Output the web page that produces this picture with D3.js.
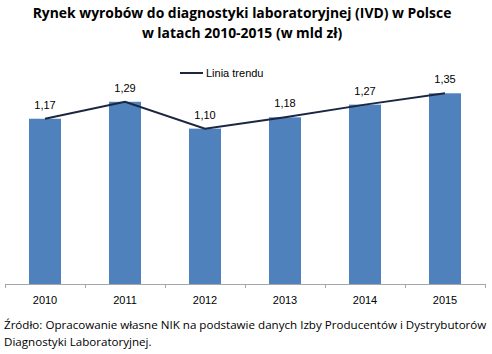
<!DOCTYPE html>
<html>
<head>
<meta charset="utf-8">
<script src="https://cdn.jsdelivr.net/npm/d3@7"></script>
<style>
  body { margin: 0; background: #fff; }
  svg { display: block; }
</style>
</head>
<body>
<div id="chart"></div>
<script>
// data
var years = ["2010", "2011", "2012", "2013", "2014", "2015"];
var values = [1.17, 1.29, 1.10, 1.18, 1.27, 1.35];
var titleLines = ["Rynek wyrobów do diagnostyki laboratoryjnej (IVD) w Polsce", "w latach 2010-2015 (w mld zł)"];
var sourceLines = ["Źródło: Opracowanie własne NIK na podstawie danych Izby Producentów i Dystrybutorów", "Diagnostyki Laboratoryjnej."];
var legendLabel = "Linia trendu";

var width = 492, height = 354;

var svg = d3.select("#chart").append("svg")
	.attr("width", width)
	.attr("height", height);

//Scales
var x = d3.scaleBand().domain(years).range([5, 485]).paddingInner(0.6).paddingOuter(0.3);
var y = d3.scaleLinear().domain([0, 1.6]).range([284, 58]);

//Title
svg.append("g").selectAll("text")
	.data(titleLines)
	.enter().append("text")
	.attr("x", 242)
	.attr("y", function(d, i) { return 18 + i * 20; })
	.attr("text-anchor", "middle")
	.style("font-family", "'Open Sans', sans-serif")
	.style("font-weight", "bold")
	.style("font-size", "13.9px")
	.style("fill", "#000")
	.text(function(d) { return d; });

//Bars
svg.append("g").selectAll("rect")
	.data(values)
	.enter().append("rect")
	.attr("x", function(d, i) { return x(years[i]); })
	.attr("y", function(d) { return y(d); })
	.attr("width", x.bandwidth())
	.attr("height", function(d) { return y(0) - y(d); })
	.style("fill", "#4F81BD");

//Trend line
var line = d3.line()
	.x(function(d, i) { return x(years[i]) + x.bandwidth() / 2; })
	.y(function(d) { return y(d); });

svg.append("path")
	.datum(values)
	.attr("d", line)
	.style("fill", "none")
	.style("stroke", "#1B2740")
	.style("stroke-width", 2);

//Value labels
svg.append("g").selectAll("text")
	.data(values)
	.enter().append("text")
	.attr("x", function(d, i) { return x(years[i]) + x.bandwidth() / 2; })
	.attr("y", function(d) { return y(d) - 10; })
	.attr("text-anchor", "middle")
	.style("font-family", "'Liberation Sans', Arial, sans-serif")
	.style("font-size", "11px")
	.style("fill", "#000")
	.text(function(d) { return d.toFixed(2).replace(".", ","); });

//X axis
var xAxis = svg.append("g")
	.attr("transform", "translate(0," + y(0) + ")")
	.call(d3.axisBottom(x).tickSize(0).tickPadding(12));
xAxis.select(".domain").attr("d", "M5,0.5H485").style("stroke", "#A6A6A6");
xAxis.selectAll("text")
	.style("font-family", "'Liberation Sans', Arial, sans-serif")
	.style("font-size", "11px")
	.style("fill", "#000");

//Tick marks at band boundaries
var bounds = years.map(function(d) { return x(d) - x.step() * x.paddingInner() / 2; }).concat([485]);
svg.append("g").selectAll("line")
	.data(bounds)
	.enter().append("line")
	.attr("x1", function(d) { return Math.round(d) + 0.5; })
	.attr("x2", function(d) { return Math.round(d) + 0.5; })
	.attr("y1", y(0))
	.attr("y2", y(0) + 4)
	.style("stroke", "#A6A6A6");

//Legend
var legend = svg.append("g").attr("transform", "translate(180,73)");
legend.append("line")
	.attr("x1", 0).attr("x2", 23)
	.style("stroke", "#1B2740")
	.style("stroke-width", 2);
legend.append("text")
	.attr("x", 26)
	.attr("y", 4)
	.style("font-family", "'Liberation Sans', Arial, sans-serif")
	.style("font-size", "11px")
	.style("fill", "#000")
	.text(legendLabel);

//Source
svg.append("g").selectAll("text")
	.data(sourceLines)
	.enter().append("text")
	.attr("x", 4)
	.attr("y", function(d, i) { return 329 + i * 17; })
	.style("font-family", "'Open Sans', sans-serif")
	.style("font-size", "11.6px")
	.style("fill", "#000")
	.text(function(d) { return d; });
</script>
</body>
</html>
